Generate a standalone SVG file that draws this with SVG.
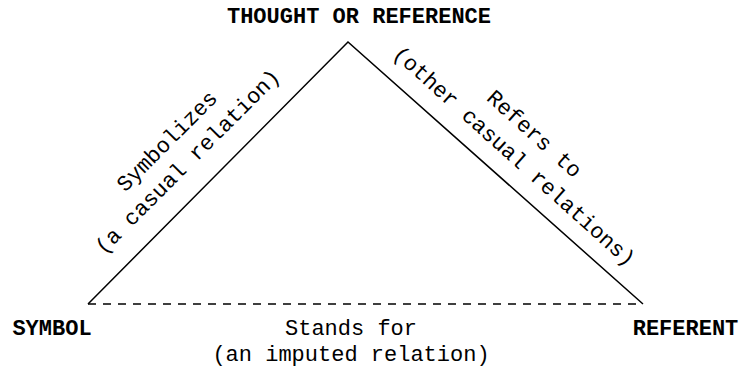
<svg xmlns="http://www.w3.org/2000/svg" width="740" height="369" viewBox="0 0 740 369">
<style>
  .lbl { font-family: "Liberation Mono", "DejaVu Sans Mono", monospace; font-size: 22px; fill: #000; text-anchor: middle; }
  .node { font-weight: bold; }
  .edge { stroke: #000; stroke-width: 1.5; fill: none; }
  .dash { stroke-dasharray: 8 7; }
</style>
<rect width="740" height="369" fill="#fff"/>
<g id="connectors">
  <path class="edge" d="M88,304 L348,42 L643,304"/>
  <path class="edge dash" d="M88,304 L643,304"/>
</g>
<g id="thought">
  <text class="lbl node" x="359" y="22.5">THOUGHT OR REFERENCE</text>
</g>
<g id="symbol">
  <text class="lbl node" x="52" y="335">SYMBOL</text>
</g>
<g id="referent">
  <text class="lbl node" x="685.5" y="335">REFERENT</text>
</g>
<g id="label-symbolizes" transform="translate(172,146) rotate(-45)">
  <text class="lbl" x="0" y="0">Symbolizes</text>
  <text class="lbl" x="0" y="29">(a casual relation)</text>
</g>
<g id="label-refers" transform="translate(529.6,139.1) rotate(42)">
  <text class="lbl" x="0" y="0">Refers to</text>
  <text class="lbl" x="0" y="30">(other casual relations)</text>
</g>
<g id="label-stands">
  <text class="lbl" x="351" y="335">Stands for</text>
  <text class="lbl" x="351" y="361">(an imputed relation)</text>
</g>
</svg>
